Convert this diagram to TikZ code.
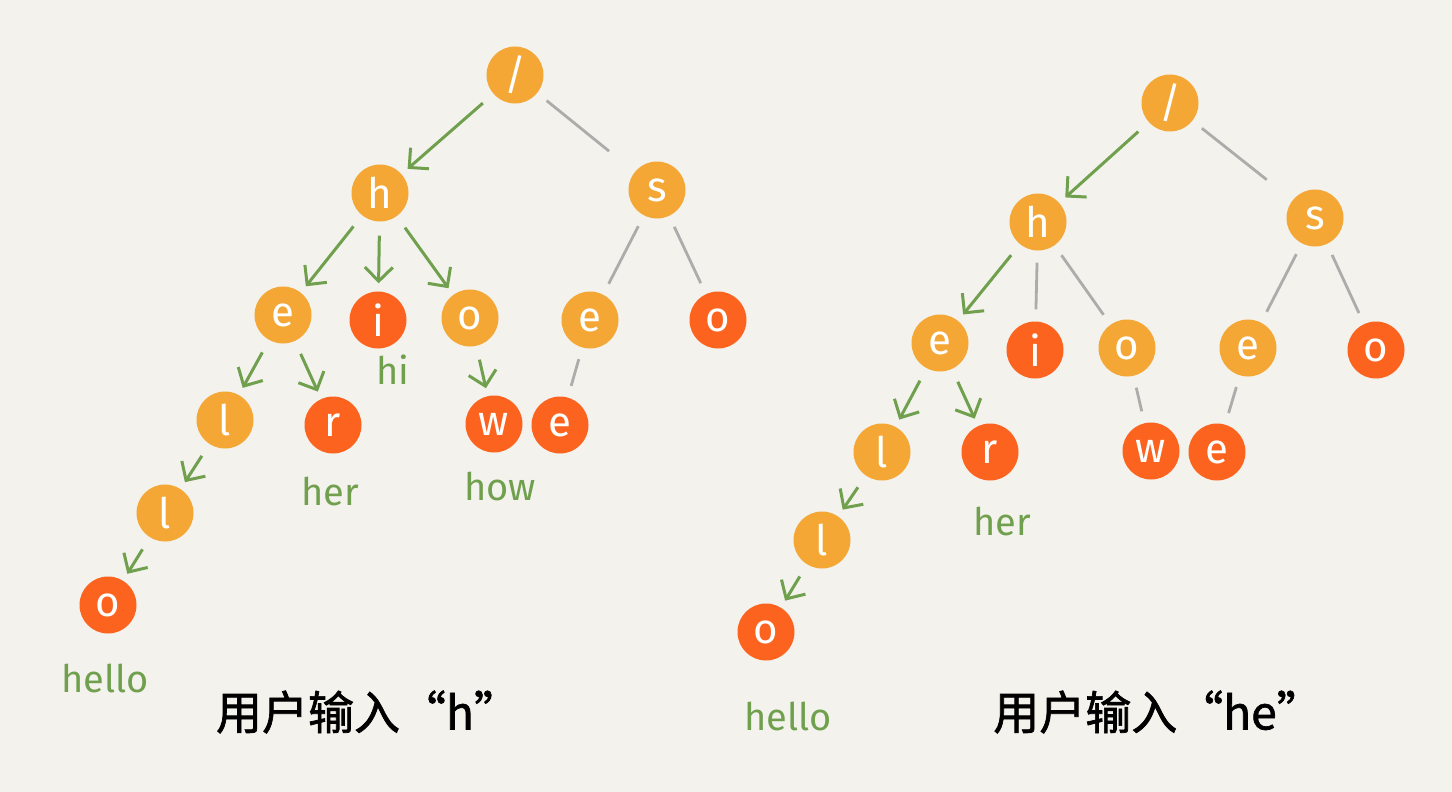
\documentclass[tikz,border=0pt]{standalone}
\usepackage{fontspec}
\setmainfont{Fira Sans}
\newfontfamily\cjk{Noto Sans CJK SC}[FakeBold=1.5]
\usetikzlibrary{arrows.meta}
\definecolor{bg}{RGB}{243,242,237}
\definecolor{orng}{RGB}{244,167,52}
\definecolor{redo}{RGB}{252,99,30}
\definecolor{grn}{RGB}{112,160,78}
\definecolor{gry}{RGB}{172,172,170}
\tikzset{
  tnode/.style={circle, minimum size=57pt, inner sep=0pt, text=white, font=\fontsize{42}{42}\selectfont},
  inner/.style={tnode, fill=orng},
  leaf/.style={tnode, fill=redo},
  garr/.style={draw=grn, line width=3pt, -{Straight Barb[length=14pt,width=28pt,line width=3pt]}, shorten <=14pt, shorten >=8pt},
  gline/.style={draw=gry, line width=2.8pt, shorten <=12pt, shorten >=12pt},
  lbl/.style={text=grn, font=\fontsize{38}{38}\selectfont},
  capt/.style={text=black, font=\cjk\fontsize{46}{46}\selectfont}
}
\begin{document}
\begin{tikzpicture}[x=1pt,y=-1pt]
\fill[bg] (0,0) rectangle (1452,792);
\useasboundingbox (0,0) rectangle (1452,792);
% ---------- left tree ----------
\node[inner] (aR) at (515,75) {/};
\node[inner] (aH) at (380,193) {h};
\node[inner] (aS) at (657,190) {s};
\node[inner] (aHE) at (283,315) {e};
\node[leaf]  (aHI) at (378,320) {i};
\node[inner] (aHO) at (470,318) {o};
\node[inner] (aSE) at (590,320) {e};
\node[leaf]  (aSO) at (718,320) {o};
\node[inner] (aL1) at (225,420) {l};
\node[leaf]  (aHR) at (333,425) {r};
\node[leaf]  (aHW) at (494,424) {w};
\node[leaf]  (aSEE) at (560,425) {e};
\node[inner] (aL2) at (165,513) {l};
\node[leaf]  (aLO) at (108,605) {o};
\node[lbl] (aThi) at (393,370) {hi};
\node[lbl] (aTher) at (330,492) {her};
\node[lbl] (aThow) at (500,487) {how};
\node[lbl] (aThello) at (105,678) {hello};
\node[capt] (aCap) at (368,712) {用户输入“h”};
\draw[garr] (aR) -- (aH);
\draw[gline, shorten >=33pt] (aR) -- (aS);
\draw[garr] (aH) -- (aHE);
\draw[garr] (aH) -- (aHI);
\draw[garr] (aH) -- (aHO);
\draw[gline] (aS) -- (aSE);
\draw[gline] (aS) -- (aSO);
\draw[garr] (aHE) -- (aL1);
\draw[garr] (aHE) -- (aHR);
\draw[garr] (aHO) -- (aHW);
\draw[gline] (aSE) -- (aSEE);
\draw[garr] (aL1) -- (aL2);
\draw[garr] (aL2) -- (aLO);
% ---------- right tree ----------
\node[inner] (bR) at (1170,103) {/};
\node[inner] (bH) at (1038,222) {h};
\node[inner] (bS) at (1315,218) {s};
\node[inner] (bHE) at (940,343) {e};
\node[leaf]  (bHI) at (1035,350) {i};
\node[inner] (bHO) at (1127,348) {o};
\node[inner] (bSE) at (1248,348) {e};
\node[leaf]  (bSO) at (1376,350) {o};
\node[inner] (bL1) at (882,452) {l};
\node[leaf]  (bHR) at (990,452) {r};
\node[leaf]  (bHW) at (1151,451) {w};
\node[leaf]  (bSEE) at (1217,452) {e};
\node[inner] (bL2) at (822,540) {l};
\node[leaf]  (bLO) at (766,632) {o};
\node[lbl] (bTher) at (1002,522) {her};
\node[lbl] (bThello) at (788,716) {hello};
\node[capt] (bCap) at (1158,712) {用户输入“he”};
\draw[garr] (bR) -- (bH);
\draw[gline, shorten >=33pt] (bR) -- (bS);
\draw[garr] (bH) -- (bHE);
\draw[gline] (bH) -- (bHI);
\draw[gline] (bH) -- (bHO);
\draw[gline] (bS) -- (bSE);
\draw[gline] (bS) -- (bSO);
\draw[garr] (bHE) -- (bL1);
\draw[garr] (bHE) -- (bHR);
\draw[gline] (bHO) -- (bHW);
\draw[gline] (bSE) -- (bSEE);
\draw[garr] (bL1) -- (bL2);
\draw[garr] (bL2) -- (bLO);
\end{tikzpicture}
\end{document}
